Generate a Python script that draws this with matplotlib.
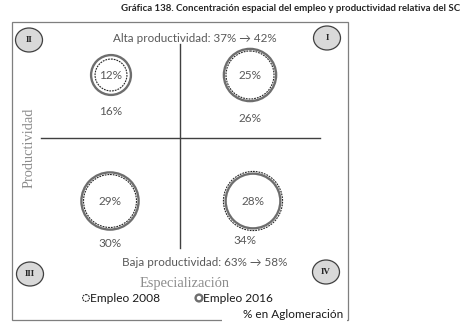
import numpy as np
import matplotlib.pyplot as plt
from matplotlib.patches import Circle, Ellipse, Rectangle

# Employment share in the agglomeration by quadrant (%)
quadrants = ["I", "II", "III", "IV"]
emp_2008 = [25, 12, 29, 34]
emp_2016 = [26, 16, 30, 28]
inner_labels = ["25%", "12%", "29%", "28%"]
outer_labels = ["26%", "16%", "30%", "34%"]
alta_text = "Alta productividad: 37% \u2192 42%"
baja_text = "Baja productividad: 63% \u2192 58%"
title = "Gráfica 138. Concentración espacial del empleo y productividad relativa del SC"

# layout (pixel units, y pointing down)
centers = {"I": (250, 75), "II": (111, 75), "III": (110, 201), "IV": (253, 201)}
label_pos = {"I": (250, 118), "II": (111, 111), "III": (110, 243), "IV": (245, 240)}
roman_pos = {"I": (327, 38), "II": (29, 40), "III": (30, 274), "IV": (326, 272)}


def radius(v):
    # bubble radius in px for a share v (%)
    return 10 + 0.62 * v


plt.rcParams['font.family'] = ['Lato', 'DejaVu Sans']
fig = plt.figure(figsize=(4.64, 3.22), dpi=100)
ax = fig.add_axes([0, 0, 1, 1])
ax.set_xlim(0, 464)
ax.set_ylim(322, 0)
ax.axis('off')

txt = '#595959'
line = '#404040'

# outer frame
ax.add_patch(Rectangle((12, 22), 336, 298, fill=False, ec='#7f7f7f', lw=0.9))

# quadrant axes
ax.plot([180, 180], [44, 248], color=line, lw=1.0)
ax.plot([41, 320], [138, 138], color=line, lw=1.0)

ax.text(195, 38, alta_text, ha='center', va='center', fontsize=8.4, color=txt)
ax.text(205, 263, baja_text, ha='center', va='center', fontsize=8.4, color=txt)

for i, q in enumerate(quadrants):
    cx, cy = centers[q]
    ax.add_patch(Circle((cx, cy), radius(emp_2016[i]), fill=False,
                        ec='#6e6e6e', lw=1.7))
    ax.add_patch(Circle((cx, cy), radius(emp_2008[i]) - 1.5, fill=False,
                        ec='#262626', lw=0.8, ls=(0, (1.6, 0.9))))
    ax.text(cx, cy, inner_labels[i], ha='center', va='center', fontsize=8.5, color=txt)
    lx, ly = label_pos[q]
    ax.text(lx, ly, outer_labels[i], ha='center', va='center', fontsize=8.5, color=txt)

    rx, ry = roman_pos[q]
    ax.add_patch(Ellipse((rx, ry), 27, 24, fc='#d9d9d9', ec='#404040', lw=0.9))
    ax.text(rx, ry, q, ha='center', va='center', fontsize=6.5, fontweight='bold',
            family='Liberation Serif', color='#262626')

# axis titles
ax.text(185, 284, "Especialización", ha='center', va='center', fontsize=10.4,
        family='Liberation Serif', color='#8c8c8c')
ax.text(29, 148, "Productividad", ha='center', va='center', fontsize=10.4,
        rotation=90, family='Liberation Serif', color='#8c8c8c')

# legend
ax.add_patch(Circle((86, 298), 3.4, fill=False, ec='#262626', lw=0.8, ls=(0, (1.5, 0.8))))
ax.text(90, 298, "Empleo 2008", ha='left', va='center', fontsize=8.6, color='#1a1a1a')
ax.add_patch(Circle((199, 298), 3.4, fill=False, ec='#6e6e6e', lw=1.7))
ax.text(203, 298, "Empleo 2016", ha='left', va='center', fontsize=8.6, color='#1a1a1a')

# unit box
ax.add_patch(Rectangle((222, 306), 125.5, 17, fc='white', ec='none', zorder=3))
ax.text(343, 314, "% en Aglomeración", ha='right', va='center', fontsize=8.5,
        color='#1a1a1a', zorder=4)

ax.text(460, 8, title, ha='right', va='center', fontsize=6.9, fontweight='bold',
        color='#262626')

fig.savefig('out.png', dpi=100)
